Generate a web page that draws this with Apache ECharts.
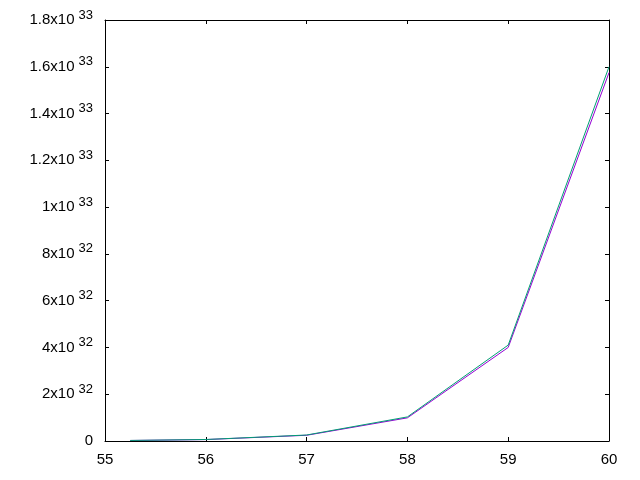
<!DOCTYPE html>
<html>
<head>
<meta charset="utf-8">
<script src="https://cdn.jsdelivr.net/npm/echarts@6/dist/echarts.min.js"></script>
<style>
html,body{margin:0;padding:0;background:#fff;}
#chart{width:640px;height:480px;}
</style>
</head>
<body>
<div id="chart"></div>
<script>
const xValues = [55.25, 56, 57, 58, 59, 60];
const purpleValues = [2.2e30, 6.1e30, 2.45e31, 0.99e32, 4.0e32, 1.575e33];
const greenValues = [2.4e30, 6.4e30, 2.56e31, 1.03e32, 4.1e32, 1.6e33];
const xTicks = [55, 56, 57, 58, 59, 60];

function pairs(xs, ys) { return xs.map((x, i) => [x, ys[i]]); }

function yFmt(v) {
  if (Math.abs(v) < 1e20) return '{a|0}';
  let e = Math.floor(Math.log10(v) + 1e-9);
  let m = Math.round(v / Math.pow(10, e) * 10) / 10;
  if (m >= 10) { m = m / 10; e += 1; }
  let ms = (Math.round(m * 10) % 10 === 0) ? String(Math.round(m)) : m.toFixed(1);
  return '{a|' + ms + 'x10}{b|' + e + '}';
}

const font = '"Liberation Sans", Arial, sans-serif';
const chart = echarts.init(document.getElementById('chart'), null, {renderer: 'canvas'});
const axisLine = {show: true, onZero: false, lineStyle: {color: '#000', width: 1}};
const tick = {show: true, inside: true, length: 4, lineStyle: {color: '#000', width: 1}};

chart.setOption({
  animation: false,
  backgroundColor: '#fff',
  grid: {left: 105, right: 31, top: 20, bottom: 39, containLabel: false},
  xAxis: [
    {type: 'value', min: xTicks[0], max: xTicks[xTicks.length - 1], interval: 1,
     axisLine: axisLine, axisTick: tick, splitLine: {show: false},
     axisLabel: {color: '#000', fontFamily: font, fontSize: 15, margin: 11}},
    {type: 'value', position: 'top', min: xTicks[0], max: xTicks[xTicks.length - 1], interval: 1,
     axisLine: axisLine, axisTick: tick, splitLine: {show: false}, axisLabel: {show: false}}
  ],
  yAxis: [
    {type: 'value', min: 0, max: 1.8e33, interval: 2e32,
     axisLine: axisLine, axisTick: tick, splitLine: {show: false},
     axisLabel: {color: '#000', margin: 12, formatter: yFmt,
       rich: {
         a: {fontFamily: font, fontSize: 15, lineHeight: 16, color: '#000'},
         b: {fontFamily: font, fontSize: 13, lineHeight: 13, padding: [0, 0, 10, 4], color: '#000'}
       }}},
    {type: 'value', position: 'right', min: 0, max: 1.8e33, interval: 2e32,
     axisLine: axisLine, axisTick: tick, splitLine: {show: false}, axisLabel: {show: false}}
  ],
  series: [
    {type: 'line', data: pairs(xValues, purpleValues), showSymbol: false,
     lineStyle: {color: '#9400d3', width: 1}, itemStyle: {color: '#9400d3'}},
    {type: 'line', data: pairs(xValues, greenValues), showSymbol: false,
     lineStyle: {color: '#009e73', width: 1}, itemStyle: {color: '#009e73'}}
  ]
});
</script>
</body>
</html>
